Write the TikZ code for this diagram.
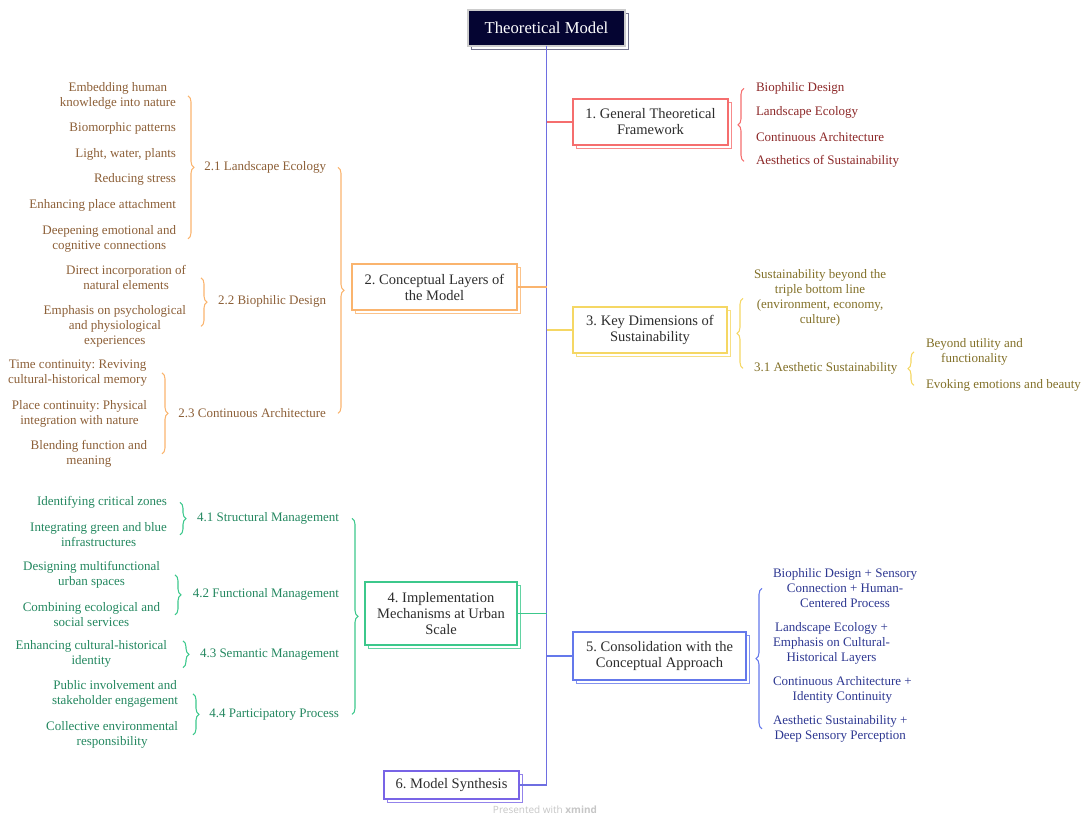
\documentclass[tikz,border=0pt]{standalone}
\usepackage{fontspec}
\setmainfont{Liberation Serif}
\newfontfamily\wmfont{Open Sans}
\usetikzlibrary{decorations.pathreplacing,shadows}
\frenchspacing
\definecolor{spinec}{RGB}{110,110,225}
\definecolor{rootnavy}{RGB}{5,5,50}
\definecolor{redb}{RGB}{245,110,110}
\definecolor{redt}{RGB}{140,40,40}
\definecolor{orab}{RGB}{250,180,110}
\definecolor{orat}{RGB}{140,95,55}
\definecolor{yelb}{RGB}{245,215,100}
\definecolor{yelt}{RGB}{130,112,40}
\definecolor{greb}{RGB}{60,200,140}
\definecolor{gret}{RGB}{35,135,95}
\definecolor{blub}{RGB}{100,120,235}
\definecolor{blut}{RGB}{45,55,145}
\definecolor{viob}{RGB}{120,100,230}
\definecolor{boxtext}{RGB}{45,45,45}
\begin{document}
\begin{tikzpicture}[x=0.75pt,y=-0.75pt,
  every node/.style={inner sep=0pt,outer sep=0pt},
  mbox/.style={draw=#1,fill=white,line width=1pt,align=center,
    font=\fontsize{10.9}{12}\selectfont,text=boxtext,
    copy shadow={draw=#1!80,fill=white,line width=1pt,shadow xshift=2.4pt,shadow yshift=-2.4pt}},
  leaf/.style={align=center,font=\fontsize{9.75}{11.25}\selectfont,text=#1,yshift=-1pt},
  brc/.style={draw=#1,line width=0.8pt,decorate,decoration={brace,amplitude=4.5pt}},
  conn/.style={draw=#1,line width=1pt},
]
\useasboundingbox (0,0) rectangle (1086,816);

% root
\node[fill=rootnavy,draw=gray!40,line width=0.8pt,minimum width=117.75pt,minimum height=27pt,
  text=white,font=\fontsize{12.5}{14}\selectfont,
  copy shadow={draw=rootnavy!55,fill=white,line width=0.8pt,shadow xshift=2.4pt,shadow yshift=-2.4pt}]
  (root) at (546.5,28) {Theoretical Model};

% main boxes
\node[mbox=redb,minimum width=116.25pt,minimum height=34.5pt] (b1) at (650.5,122) {1. General Theoretical\\Framework};
\node[mbox=orab,minimum width=123.75pt,minimum height=34.5pt] (b2) at (434.5,287) {2. Conceptual Layers of\\the Model};
\node[mbox=yelb,minimum width=115.5pt,minimum height=34.5pt] (b3) at (650,330) {3. Key Dimensions of\\Sustainability};
\node[mbox=greb,minimum width=114pt,minimum height=47.25pt] (b4) at (441,613.5) {4. Implementation\\Mechanisms at Urban\\Scale};
\node[mbox=blub,minimum width=129.75pt,minimum height=36pt] (b5) at (659.5,656) {5. Consolidation with the\\Conceptual Approach};
\node[mbox=viob,minimum width=101.25pt,minimum height=21pt] (b6) at (451.5,785) {6. Model Synthesis};

% spine and connectors
\draw[conn=spinec,line width=1.1pt] (root.south) -- (root.south |- b6.east) -- (b6.east);
\draw[conn=redb] (root.south |- b1.west) -- (b1.west);
\draw[conn=orab] (b2.east) -- (root.south |- b2.east);
\draw[conn=yelb] (root.south |- b3.west) -- (b3.west);
\draw[conn=greb] (b4.east) -- (root.south |- b4.east);
\draw[conn=blub] (root.south |- b5.west) -- (b5.west);

% branch 1
\node[leaf=redt,anchor=west] (n11) at (756,87) {Biophilic Design};
\node[leaf=redt,anchor=west] (n12) at (756,111) {Landscape Ecology};
\node[leaf=redt,anchor=west] (n13) at (756,136) {Continuous Architecture};
\node[leaf=redt,anchor=west] (n14) at (756,160) {Aesthetics of Sustainability};
\draw[brc=redb] (744,0 |- n14) -- (744,0 |- n11);

% branch 3
\node[leaf=yelt,anchor=west] (n31) at (754,297) {Sustainability beyond the\\triple bottom line\\(environment, economy,\\culture)};
\node[leaf=yelt,anchor=west] (n32) at (754,367) {3.1 Aesthetic Sustainability};
\node[leaf=yelt,anchor=west] (n321) at (926,350.5) {Beyond utility and\\functionality};
\node[leaf=yelt,anchor=west] (n322) at (926,384) {Evoking emotions and beauty};
\draw[brc=yelb] (743,0 |- n32) -- (743,0 |- n31);
\draw[brc=yelb] (914,0 |- n322) -- (914,0 |- n321);

% branch 5
\node[leaf=blut,anchor=west] (n51) at (773,587) {Biophilic Design + Sensory\\Connection + Human-\\Centered Process};
\node[leaf=blut,anchor=west] (n52) at (773,642) {Landscape Ecology +\\Emphasis on Cultural-\\Historical Layers};
\node[leaf=blut,anchor=west] (n53) at (773,688.5) {Continuous Architecture +\\Identity Continuity};
\node[leaf=blut,anchor=west] (n54) at (773,727.5) {Aesthetic Sustainability +\\Deep Sensory Perception};
\draw[brc=blub] (762,0 |- n54) -- (762,0 |- n51);

% branch 2
\node[leaf=orat,anchor=east] (n21) at (326,166) {2.1 Landscape Ecology};
\node[leaf=orat,anchor=east] (n211) at (176,94.5) {Embedding human\\knowledge into nature};
\node[leaf=orat,anchor=east] (n212) at (176,127) {Biomorphic patterns};
\node[leaf=orat,anchor=east] (n213) at (176,153) {Light, water, plants};
\node[leaf=orat,anchor=east] (n214) at (176,178) {Reducing stress};
\node[leaf=orat,anchor=east] (n215) at (176,204) {Enhancing place attachment};
\node[leaf=orat,anchor=east] (n216) at (176,237.5) {Deepening emotional and\\cognitive connections};
\draw[brc=orab] (188,0 |- n211) -- (188,0 |- n216);

\node[leaf=orat,anchor=east] (n22) at (326,300) {2.2 Biophilic Design};
\node[leaf=orat,anchor=east] (n221) at (186,276.5) {Direct incorporation of\\natural elements};
\node[leaf=orat,anchor=east] (n222) at (186,325) {Emphasis on psychological\\and physiological\\experiences};
\draw[brc=orab] (201,0 |- n221) -- (201,0 |- n222);

\node[leaf=orat,anchor=east] (n23) at (326,412) {2.3 Continuous Architecture};
\node[leaf=orat,anchor=east] (n231) at (147,371.5) {Time continuity: Reviving\\cultural-historical memory};
\node[leaf=orat,anchor=east] (n232) at (147,412.5) {Place continuity: Physical\\integration with nature};
\node[leaf=orat,anchor=east] (n233) at (147,452.5) {Blending function and\\meaning};
\draw[brc=orab] (162,0 |- n231) -- (162,0 |- n233);

\draw[brc=orab] (338,0 |- n21) -- (338,0 |- n23);

% branch 4
\node[leaf=gret,anchor=east] (n41) at (339,517) {4.1 Structural Management};
\node[leaf=gret,anchor=east] (n411) at (167,501) {Identifying critical zones};
\node[leaf=gret,anchor=east] (n412) at (167,533.5) {Integrating green and blue\\infrastructures};
\draw[brc=greb] (180,0 |- n411) -- (180,0 |- n412);

\node[leaf=gret,anchor=east] (n42) at (339,593.5) {4.2 Functional Management};
\node[leaf=gret,anchor=east] (n421) at (160,573.5) {Designing multifunctional\\urban spaces};
\node[leaf=gret,anchor=east] (n422) at (160,613.5) {Combining ecological and\\social services};
\draw[brc=greb] (175,0 |- n421) -- (175,0 |- n422);

\node[leaf=gret,anchor=east] (n43) at (339,653) {4.3 Semantic Management};
\node[leaf=gret,anchor=east] (n431) at (167,653) {Enhancing cultural-historical\\identity};
\draw[brc=greb] (183,0 |- n431.north) -- (183,0 |- n431.south);

\node[leaf=gret,anchor=east] (n44) at (339,713) {4.4 Participatory Process};
\node[leaf=gret,anchor=east] (n441) at (178,692.5) {Public involvement and\\stakeholder engagement};
\node[leaf=gret,anchor=east] (n442) at (178,733.5) {Collective environmental\\responsibility};
\draw[brc=greb] (193,0 |- n441) -- (193,0 |- n442);

\draw[brc=greb] (352,0 |- n41) -- (352,0 |- n44);

% watermark
\node[text=gray!45,font=\wmfont\fontsize{7.5}{9}\selectfont] (wm) at (545,810) {Presented with \textbf{xmind}};
\end{tikzpicture}
\end{document}
